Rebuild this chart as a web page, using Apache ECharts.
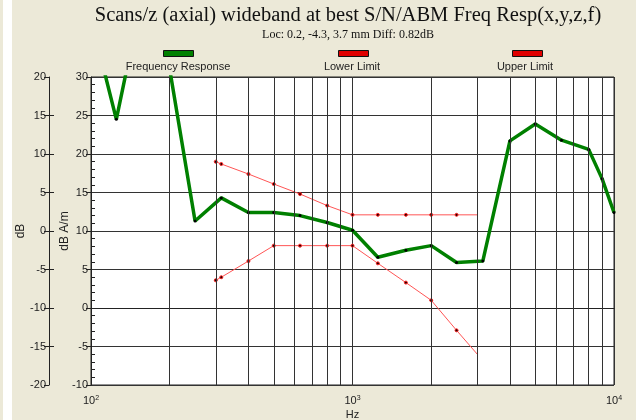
<!DOCTYPE html>
<html>
<head>
<meta charset="utf-8">
<script src="https://cdn.jsdelivr.net/npm/echarts@6/dist/echarts.min.js"></script>
<style>
  html, body { margin: 0; padding: 0; background: #ece9d8; }
  #chart { width: 636px; height: 420px; }
</style>
</head>
<body>
<div id="chart"></div>
<script>
  // frequency response points (Hz, dB A/m)
  const respFreq = [100, 125, 160, 200, 250, 315, 400, 500, 630, 800, 1000, 1250, 1600, 2000, 2500, 3150, 4000, 5000, 6300, 8000, 9000, 10000]
  const respValue = [37.6, 24.5, 42, 31, 11.3, 14.3, 12.4, 12.4, 12.0, 11.1, 10.1, 6.6, 7.5, 8.1, 5.9, 6.1, 21.7, 23.9, 21.8, 20.6, 16.8, 12.4]
  // limit lines
  const limFreq = [300, 315, 400, 500, 630, 800, 1000, 1250, 1600, 2000, 2500, 3000]
  const upperValue = [19.0, 18.7, 17.4, 16.1, 14.8, 13.3, 12.1, 12.1, 12.1, 12.1, 12.1, 12.1]
  const lowerValue = [3.6, 4.0, 6.1, 8.1, 8.1, 8.1, 8.1, 5.8, 3.3, 1.0, -2.9, -6.0]
  // log grid lines between decades
  const gridFreqs = [200, 300, 400, 500, 600, 700, 800, 900, 2000, 3000, 4000, 5000, 6000, 7000, 8000, 9000]
  const minorTicks = []
  for (let v = -10; v <= 30; v++) { if (v % 5 !== 0) minorTicks.push(v) }
  const dbInnerTicks = [-15, -10, -5, 0, 5, 10, 15]
  const legendNames = ['Frequency Response', 'Lower Limit', 'Upper Limit']

  const font = 'Liberation Sans, Arial, sans-serif'
  const sup = { '2': '2', '3': '3', '4': '4' }

  function limitData(values) {
    return limFreq.map((f, i) => i === limFreq.length - 1
      ? { value: [f, values[i]], symbol: 'none' }
      : [f, values[i]])
  }

  const myChart = echarts.init(document.getElementById('chart'))

  const limitStyle = {
    type: 'line',
    yAxisIndex: 0,
    z: 3,
    symbol: 'circle',
    symbolSize: 3,
    lineStyle: { color: '#ff5555', width: 1 },
    itemStyle: { color: '#200', borderColor: '#ff2020', borderWidth: 1 },
    emphasis: { disabled: true },
    animation: false
  }

  myChart.setOption({
    backgroundColor: '#ece9d8',
    animation: false,
    title: {
      text: 'Scans/z (axial) wideband at best S/N/ABM Freq Resp(x,y,z,f)',
      subtext: 'Loc: 0.2, -4.3, 3.7 mm Diff: 0.82dB',
      left: 348,
      textAlign: 'center',
      top: 5,
      itemGap: 3,
      padding: 0,
      textStyle: { fontFamily: 'Liberation Serif, Times New Roman, serif', fontSize: 20.5, fontWeight: 'normal', color: '#111' },
      subtextStyle: { fontFamily: 'Liberation Serif, Times New Roman, serif', fontSize: 12, color: '#111' }
    },
    graphic: [
      { type: 'rect', left: 3, top: 0, shape: { width: 9, height: 420 }, style: { fill: '#fff' }, silent: true },
      { type: 'text', x: 178, y: 67, style: { text: legendNames[0], font: '11px ' + font, fill: '#222', align: 'center', verticalAlign: 'middle' } },
      { type: 'text', x: 352, y: 67, style: { text: legendNames[1], font: '11px ' + font, fill: '#222', align: 'center', verticalAlign: 'middle' } },
      { type: 'text', x: 525, y: 67, style: { text: legendNames[2], font: '11px ' + font, fill: '#222', align: 'center', verticalAlign: 'middle' } }
    ],
    legend: [
      { data: [{ name: legendNames[0], itemStyle: { color: '#008000', borderColor: '#111', borderWidth: 1 } }], left: 163, top: 50 },
      { data: [{ name: legendNames[1], itemStyle: { color: '#e00000', borderColor: '#111', borderWidth: 1 } }], left: 338, top: 50 },
      { data: [{ name: legendNames[2], itemStyle: { color: '#e00000', borderColor: '#111', borderWidth: 1 } }], left: 512, top: 50 }
    ].map(l => Object.assign(l, {
      icon: 'rect', itemWidth: 30, itemHeight: 6, padding: 0, formatter: () => '',
      selectedMode: false, textStyle: { fontSize: 1 }
    })),
    grid: {
      left: 91, right: 22, top: 77, bottom: 35,
      outerBoundsMode: 'none',
      show: true, backgroundColor: '#fff', borderColor: '#222', borderWidth: 1
    },
    xAxis: {
      type: 'log',
      logBase: 10,
      min: 100,
      max: 10000,
      name: 'Hz',
      nameLocation: 'middle',
      nameGap: 24,
      nameMoveOverlap: false,
      nameTextStyle: { fontFamily: font, fontSize: 11, color: '#222' },
      axisLine: { show: true, lineStyle: { color: '#222', width: 1 } },
      axisTick: { show: false },
      axisLabel: {
        margin: 10,
        formatter: v => '{b|10}{s|' + sup[Math.round(Math.log10(v))] + '}',
        rich: {
          b: { fontFamily: font, fontSize: 11, color: '#222' },
          s: { fontFamily: font, fontSize: 7, color: '#222', verticalAlign: 'top', padding: [0, 0, 5, 0] }
        }
      },
      splitLine: { show: true, lineStyle: { color: '#333', width: 1 } }
    },
    yAxis: [
      {
        type: 'value', min: -10, max: 30, interval: 5, position: 'left',
        name: 'dB A/m', nameLocation: 'middle', nameGap: 20, nameMoveOverlap: false,
        nameTextStyle: { fontFamily: font, fontSize: 12, color: '#222' },
        axisLine: { show: true, lineStyle: { color: '#222' } },
        axisTick: { show: true, length: 5, lineStyle: { color: '#222' } },
        axisLabel: { margin: 3, fontFamily: font, fontSize: 11, color: '#222' },
        splitLine: { show: true, lineStyle: { color: '#333', width: 1 } }
      },
      {
        type: 'value', min: -10, max: 30, position: 'left',
        axisLine: { show: false },
        axisTick: { show: true, inside: true, length: 4, customValues: minorTicks, lineStyle: { color: '#222' } },
        axisLabel: { show: false },
        splitLine: { show: false }
      },
      {
        type: 'value', min: -20, max: 20, interval: 5, position: 'left', offset: 42,
        name: 'dB', nameLocation: 'middle', nameGap: 22, nameMoveOverlap: false,
        nameTextStyle: { fontFamily: font, fontSize: 12, color: '#222' },
        axisLine: { show: true, lineStyle: { color: '#222' } },
        axisTick: { show: true, length: 5, lineStyle: { color: '#222' } },
        axisLabel: { margin: 3, fontFamily: font, fontSize: 11, color: '#222' },
        splitLine: { show: false }
      },
      {
        type: 'value', min: -20, max: 20, position: 'left', offset: 42,
        axisLine: { show: false },
        axisTick: { show: true, inside: true, length: 5, customValues: dbInnerTicks, lineStyle: { color: '#222' } },
        axisLabel: { show: false },
        splitLine: { show: false }
      }
    ],
    series: [
      {
        // log grid lines
        type: 'line',
        data: [],
        z: 1,
        silent: true,
        markLine: {
          silent: true,
          symbol: 'none',
          label: { show: false },
          lineStyle: { color: '#333', width: 1, type: 'solid' },
          emphasis: { disabled: true },
          data: gridFreqs.map(f => ({ xAxis: f }))
        }
      },
      Object.assign({ name: legendNames[2], data: limitData(upperValue) }, limitStyle),
      Object.assign({ name: legendNames[1], data: limitData(lowerValue) }, limitStyle),
      {
        name: legendNames[0],
        type: 'line',
        yAxisIndex: 0,
        z: 4,
        data: respFreq.map((f, i) => [f, respValue[i]]),
        symbol: 'circle',
        symbolSize: 3,
        lineStyle: { color: '#008000', width: 3.5 },
        itemStyle: { color: '#000' },
        emphasis: { disabled: true }
      }
    ]
  })
</script>
</body>
</html>
